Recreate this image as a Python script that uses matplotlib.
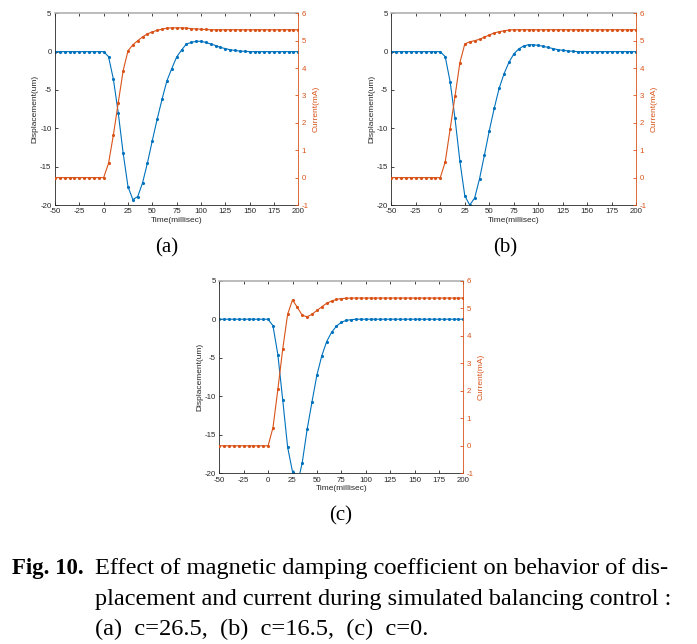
import matplotlib
matplotlib.use("Agg")
import matplotlib.pyplot as plt
import numpy as np

# 时间轴 (ms), 每 5 ms 一个采样点
time_ms = np.arange(-50, 201, 5)

# (a) c=26.5
disp_a = [0]*11 + [-0.65, -3.6, -8.0, -13.2, -17.6, -19.3, -18.9, -17.1, -14.5, -11.6,
                   -8.8, -6.2, -3.8, -2.2, -0.7, 0.2, 1.0, 1.2, 1.35, 1.35,
                   1.2, 1.0, 0.8, 0.55, 0.4, 0.25, 0.15, 0.08, 0.04] + [0]*11
curr_a = [0]*11 + [0.52, 1.56, 2.74, 3.9, 4.63, 4.85, 5.0, 5.14, 5.25, 5.32,
                   5.38, 5.42, 5.46, 5.47, 5.47, 5.47, 5.46, 5.44, 5.43, 5.42,
                   5.41] + [5.4]*19

# (b) c=16.5
disp_b = [0]*11 + [-0.65, -3.9, -8.7, -14.3, -18.8, -20.0, -19.1, -16.6, -13.5, -10.3,
                   -7.4, -4.8, -2.9, -1.4, -0.3, 0.35, 0.74, 0.9, 0.9, 0.82,
                   0.7, 0.55, 0.4, 0.26, 0.17, 0.1, 0.05] + [0]*13
curr_b = [0]*11 + [0.57, 1.76, 2.97, 4.2, 4.88, 4.96, 5.0, 5.05, 5.13, 5.21,
                   5.28, 5.33, 5.36, 5.39] + [5.4]*26

# (c) c=0
disp_c = [0]*11 + [-0.85, -4.6, -10.5, -16.6, -19.8, -21.5, -18.6, -14.3, -10.7, -7.25,
                   -4.75, -2.9, -1.7, -0.9, -0.4, -0.15, -0.06] + [0]*23
curr_c = [0]*11 + [0.66, 2.05, 3.52, 4.78, 5.3, 5.03, 4.74, 4.69, 4.78, 4.92,
                   5.05, 5.18, 5.26, 5.32, 5.35, 5.36] + [5.37]*24

panel_labels = ["(a)", "(b)", "(c)"]
caption_head = "Fig. 10."
caption_lines = ["Effect of magnetic damping coefficient on behavior of dis-",
                 "placement and current during simulated balancing control :",
                 "(a)  c=26.5,  (b)  c=16.5,  (c)  c=0."]

blue = "#0072BD"
orange = "#D95319"
W, H = 697, 644

plt.rcParams["font.family"] = ["Liberation Sans", "DejaVu Sans"]
plt.rcParams["axes.unicode_minus"] = False
fig = plt.figure(figsize=(W / 100, H / 100), dpi=100)


def make_panel(rect, disp, curr, label, label_xy):
    l, t, r, b = rect
    ax = fig.add_axes([l / W, 1 - b / H, (r - l) / W, (b - t) / H])
    ax.plot(time_ms, disp, color=blue, lw=0.8, marker=".", ms=2.5)
    ax.set_xlim(-50, 200)
    ax.set_ylim(-20, 5)
    ax.set_xticks(np.arange(-50, 201, 25))
    ax.set_yticks(np.arange(-20, 6, 5))
    ax.tick_params(direction="in", length=2.5, width=0.6, labelsize=5.7, pad=2.5,
                   colors="#262626", top=True)
    ax.set_xlabel("Time(millisec)", fontsize=6, labelpad=1, color="#262626")
    ax.set_ylabel("Displacement(um)", fontsize=6, labelpad=1, color="#262626")
    for s in ["left", "bottom"]:
        ax.spines[s].set_color("#262626")
        ax.spines[s].set_linewidth(0.6)
    ax.spines["top"].set_color("#b0b0b0")
    ax.spines["top"].set_linewidth(1.2)
    ax.spines["right"].set_visible(False)

    ax2 = ax.twinx()
    ax2.plot(time_ms, curr, color=orange, lw=0.8, marker=".", ms=2.5)
    ax2.set_ylim(-1, 6)
    ax2.set_yticks(np.arange(-1, 7, 1))
    ax2.tick_params(direction="in", length=2.5, width=0.6, labelsize=5.7, pad=2.5,
                    colors=orange)
    ax2.set_ylabel("Current(mA)", fontsize=6, labelpad=3, color=orange)
    for s in ["left", "top", "bottom"]:
        ax2.spines[s].set_visible(False)
    ax2.spines["right"].set_color(orange)
    ax2.spines["right"].set_linewidth(0.6)

    fig.text(label_xy[0] / W, 1 - label_xy[1] / H, label, fontsize=15,
             family="Liberation Serif", ha="center", va="center")


make_panel((55, 13.3, 298.3, 205), disp_a, curr_a, panel_labels[0], (167, 248))
make_panel((391.3, 13.3, 636.3, 205), disp_b, curr_b, panel_labels[1], (505, 248))
make_panel((219.3, 280.7, 463.3, 473.3), disp_c, curr_c, panel_labels[2], (341, 516))

# 图注
fig.text(12 / W, 1 - 574 / H, caption_head, fontsize=16.5, family="Liberation Serif",
         weight="bold", ha="left", va="baseline")
for i, line in enumerate(caption_lines):
    fig.text(95 / W, 1 - (574 + 30.5 * i) / H, line, fontsize=17.6,
             family="Liberation Serif", ha="left", va="baseline")

fig.savefig("out.png", dpi=100)
